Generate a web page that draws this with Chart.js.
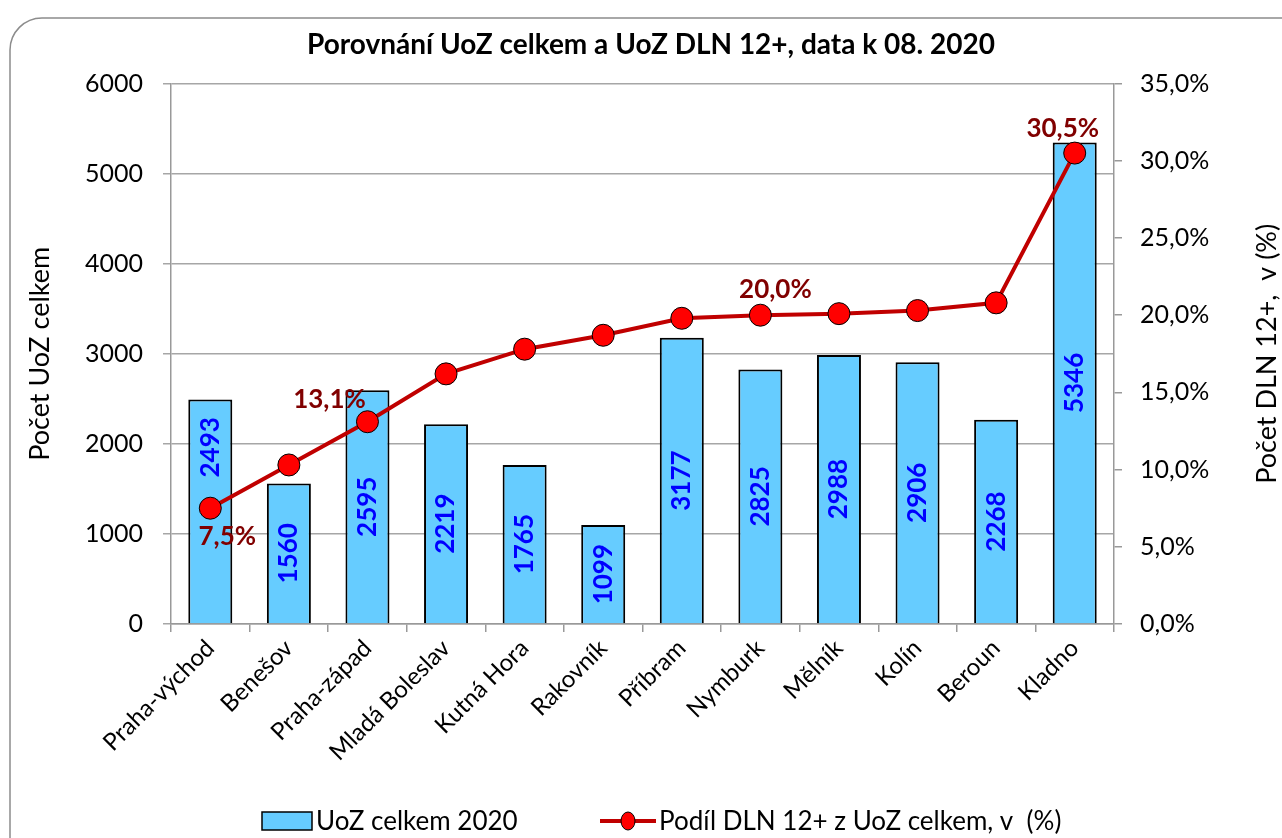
<!DOCTYPE html>
<html>
<head>
<meta charset="utf-8">
<script src="https://cdn.jsdelivr.net/npm/chart.js@4.4.1/dist/chart.umd.min.js"></script>
<style>
  html, body { margin: 0; padding: 0; background: #fff; }
  #wrap { width: 1282px; height: 838px; position: relative; }
</style>
</head>
<body>
<div id="wrap"><canvas id="chart" width="1282" height="838"></canvas></div>
<script>
const districts = ['Praha-východ', 'Benešov', 'Praha-západ', 'Mladá Boleslav', 'Kutná Hora', 'Rakovník',
    'Příbram', 'Nymburk', 'Mělník', 'Kolín', 'Beroun', 'Kladno'];
const uozTotal = [2493, 1560, 2595, 2219, 1765, 1099, 3177, 2825, 2988, 2906, 2268, 5346];
const dlnShare = [7.5, 10.3, 13.1, 16.2, 17.8, 18.7, 19.8, 20.0, 20.1, 20.3, 20.8, 30.5];
const leftTicks = [0, 1000, 2000, 3000, 4000, 5000, 6000];
const rightTicks = [0, 5, 10, 15, 20, 25, 30, 35];

const FONT = 'Lato, "Open Sans", sans-serif';
const pctFmt = v => v.toFixed(1).replace('.', ',') + '%';

// labels shown on the line: index -> offset from the point
const pctLabels = { 0: [17, 28], 2: [-38, -22], 7: [15, -26], 11: [-12, -24] };
// bar label shift (first one moved up so it clears the line label)
const barLabelShift = { 0: -64 };

const frame = {
    id: 'frame',
    beforeDraw(chart) {
        const c = chart.ctx;
        c.save();
        c.fillStyle = '#fff';
        c.fillRect(0, 0, chart.width, chart.height);
        c.strokeStyle = '#8c8c8c';
        c.lineWidth = 1.5;
        c.beginPath();
        c.roundRect(10, 18, 1320, 900, 32);
        c.stroke();
        c.restore();
    }
};

const valueLabels = {
    id: 'valueLabels',
    afterDatasetsDraw(chart) {
        const c = chart.ctx;
        c.save();
        // bar values, vertical
        chart.getDatasetMeta(1).data.forEach((bar, i) => {
            const cy = (bar.y + bar.base) / 2 + (barLabelShift[i] || 0);
            c.save();
            c.translate(bar.x, cy);
            c.rotate(-Math.PI / 2);
            c.font = 'bold 26px ' + FONT;
            c.fillStyle = '#0000ff';
            c.textAlign = 'center';
            c.textBaseline = 'middle';
            c.fillText(String(uozTotal[i]), 0, 0);
            c.restore();
        });
        // percentages on the line
        const pts = chart.getDatasetMeta(0).data;
        c.font = 'bold 26px ' + FONT;
        c.fillStyle = '#800000';
        c.textAlign = 'center';
        c.textBaseline = 'middle';
        Object.keys(pctLabels).forEach(k => {
            const p = pts[k];
            const off = pctLabels[k];
            c.fillText(pctFmt(dlnShare[k]), p.x + off[0], p.y + off[1]);
        });
        c.restore();
    }
};

// right axis title reads bottom-to-top like the left one
const rightTitle = {
    id: 'rightTitle',
    afterDraw(chart) {
        const c = chart.ctx;
        const a = chart.chartArea;
        c.save();
        c.translate(1267, (a.top + a.bottom) / 2);
        c.rotate(-Math.PI / 2);
        c.font = '27px ' + FONT;
        c.fillStyle = '#000';
        c.textAlign = 'center';
        c.textBaseline = 'middle';
        c.fillText('Počet DLN 12+,  v (%)', 0, 0);
        c.restore();
    }
};

const legendBox = {
    id: 'legendBox',
    afterDraw(chart) {
        const c = chart.ctx;
        const y = 821;
        c.save();
        c.font = '26px ' + FONT;
        c.textBaseline = 'middle';
        c.fillStyle = '#66ccff';
        c.fillRect(262, 812, 50, 18);
        c.strokeStyle = '#000';
        c.lineWidth = 1.5;
        c.strokeRect(262, 812, 50, 18);
        c.fillStyle = '#000';
        c.fillText('UoZ celkem 2020', 316, y + 1);

        c.strokeStyle = '#c00000';
        c.lineWidth = 4;
        c.beginPath();
        c.moveTo(600, y);
        c.lineTo(656, y);
        c.stroke();
        c.beginPath();
        c.ellipse(628, y, 7, 9, 0, 0, Math.PI * 2);
        c.fillStyle = '#ff0000';
        c.fill();
        c.lineWidth = 1;
        c.strokeStyle = '#000';
        c.stroke();
        c.fillStyle = '#000';
        c.fillText('Podíl DLN 12+ z UoZ celkem, v  (%)', 659, y + 1);
        c.restore();
    }
};

new Chart(document.getElementById('chart'), {
    data: {
        labels: districts,
        datasets: [
            {
                type: 'line',
                label: 'Podíl DLN 12+ z UoZ celkem, v  (%)',
                data: dlnShare,
                yAxisID: 'y1',
                borderColor: '#c00000',
                borderWidth: 4,
                pointRadius: 11,
                pointBackgroundColor: '#ff0000',
                pointBorderColor: '#000',
                pointBorderWidth: 1,
                tension: 0,
                order: 0
            },
            {
                type: 'bar',
                label: 'UoZ celkem 2020',
                data: uozTotal,
                yAxisID: 'y',
                backgroundColor: '#66ccff',
                borderColor: '#000',
                borderWidth: 2,
                categoryPercentage: 1,
                barPercentage: 0.56,
                order: 1
            }
        ]
    },
    options: {
        responsive: false,
        animation: false,
        layout: { padding: { left: 20, right: 0, top: 0, bottom: 0 } },
        plugins: {
            legend: { display: false },
            tooltip: { enabled: false },
            title: {
                display: true,
                text: 'Porovnání UoZ celkem a UoZ DLN 12+, data k 08. 2020',
                color: '#000',
                font: { family: FONT, size: 28, weight: 'bold' },
                padding: { top: 28, bottom: 22 }
            }
        },
        scales: {
            x: {
                offset: true,
                grid: { display: true, drawOnChartArea: false, drawTicks: true, tickLength: 8, offset: true, color: '#999', lineWidth: 1.5 },
                border: { color: '#999', width: 1.5 },
                ticks: {
                    color: '#000',
                    font: { family: FONT, size: 24 },
                    maxRotation: 45,
                    minRotation: 45,
                    padding: 2
                },
                afterFit(s) { s.height = 214; }
            },
            y: {
                position: 'left',
                min: 0,
                max: 6000,
                afterBuildTicks(s) { s.ticks = leftTicks.map(v => ({ value: v })); },
                grid: { color: '#a6a6a6', lineWidth: 1.5, tickLength: 8 },
                border: { color: '#999', width: 1.5 },
                ticks: { color: '#000', font: { family: FONT, size: 25 }, padding: 20, callback: v => String(v) },
                title: {
                    display: true,
                    text: 'Počet UoZ celkem',
                    color: '#000',
                    font: { family: FONT, size: 27 },
                    padding: { top: 4, bottom: 0 }
                },
                afterFit(s) { s.width = 151; }
            },
            y1: {
                position: 'right',
                min: 0,
                max: 35,
                afterBuildTicks(s) { s.ticks = rightTicks.map(v => ({ value: v })); },
                grid: { drawOnChartArea: false, color: '#999', lineWidth: 1.5, tickLength: 8 },
                border: { color: '#999', width: 1.5 },
                ticks: { color: '#000', font: { family: FONT, size: 25 }, padding: 18, callback: v => pctFmt(v) },
                title: { display: false },
                afterFit(s) { s.width = 168; }
            }
        }
    },
    plugins: [frame, valueLabels, rightTitle, legendBox]
});
</script>
</body>
</html>
